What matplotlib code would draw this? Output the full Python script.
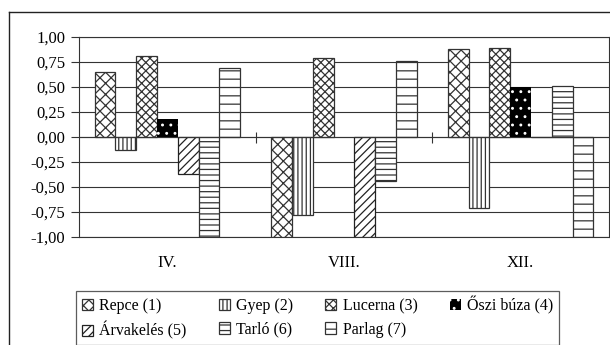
import numpy as np
import matplotlib
matplotlib.use('Agg')
import matplotlib.pyplot as plt
from matplotlib.ticker import FuncFormatter, MultipleLocator
from matplotlib.lines import Line2D

plt.rcParams['font.family'] = ['Liberation Serif', 'DejaVu Serif']
plt.rcParams['hatch.linewidth'] = 0.9

months = ['IV.', 'VIII.', 'XII.']
names = ['Repce (1)', 'Gyep (2)', 'Lucerna (3)', 'Őszi búza (4)',
         'Árvakelés (5)', 'Tarló (6)', 'Parlag (7)']

repce = [0.65, -1.00, 0.88]
gyep = [-0.13, -0.78, -0.71]
lucerna = [0.81, 0.79, 0.89]
oszi_buza = [0.18, 0.0, 0.50]
arvakeles = [-0.37, -1.00, 0.0]
tarlo = [-1.00, -0.44, 0.51]
parlag = [0.69, 0.76, -1.00]
series = [repce, gyep, lucerna, oszi_buza, arvakeles, tarlo, parlag]

hatches = ['xxx', '||||', 'xxxx', '..', '////', '---', '--']
faces = ['white', 'white', 'white', 'black', 'white', 'white', 'white']
edges = ['#333333', '#333333', '#333333', 'white', '#222222', '#333333', '#333333']
lws = [0.9, 0.9, 0.9, 0, 0.9, 0.9, 0.9]

fig = plt.figure(figsize=(6.1, 3.45), dpi=100)
ax = fig.add_axes([79 / 610, 1 - 237 / 345, 530 / 610, 200 / 345])

x = np.arange(len(months))
w = 1 / 8.5
bars = []
for j, vals in enumerate(series):
    b = ax.bar(x + (j - 3) * w, vals, w, color=faces[j], edgecolor=edges[j],
               hatch=hatches[j], linewidth=lws[j], label=names[j], zorder=3)
    bars.append(b)

ax.set_xlim(-0.5, len(months) - 0.5)
ax.set_ylim(-1, 1)
ax.yaxis.set_major_locator(MultipleLocator(0.25))
ax.yaxis.set_major_formatter(FuncFormatter(lambda v, p: '{:.2f}'.format(v).replace('.', ',')))
ax.grid(axis='y', color='#333333', linewidth=0.8, zorder=0)
ax.axhline(0, color='#333333', linewidth=0.8, zorder=4)
ax.vlines(x[:-1] + 0.5, -0.055, 0.055, color='#333333', linewidth=0.8, zorder=4)

ax.set_xticks(x)
ax.set_xticklabels(months)
ax.tick_params(axis='x', length=0, pad=13, labelsize=12)
ax.tick_params(axis='y', length=6, width=0.8, color='#333333', labelsize=12, pad=4)
for s in ax.spines.values():
    s.set_color('#333333')
    s.set_linewidth(0.8)

# row-major order for a 4-column legend
order = [0, 4, 1, 5, 2, 6, 3]
leg = fig.legend([bars[i] for i in order], [names[i] for i in order],
                 loc='center', bbox_to_anchor=((77 + 558) / 2 / 610, 1 - 318 / 345),
                 ncol=4, frameon=True, fancybox=False, fontsize=11.5,
                 handlelength=0.7, handleheight=0.7, handletextpad=0.4,
                 columnspacing=2.0, borderpad=0.35, labelspacing=0.45)
leg.get_frame().set_edgecolor('#333333')
leg.get_frame().set_linewidth(0.9)

fig.add_artist(Line2D([9 / 610, 9 / 610], [0, 1 - 12 / 345], color='#222222', linewidth=1))
fig.add_artist(Line2D([9 / 610, 1], [1 - 12 / 345, 1 - 12 / 345], color='#222222', linewidth=1))

fig.savefig('out.png', dpi=100)
